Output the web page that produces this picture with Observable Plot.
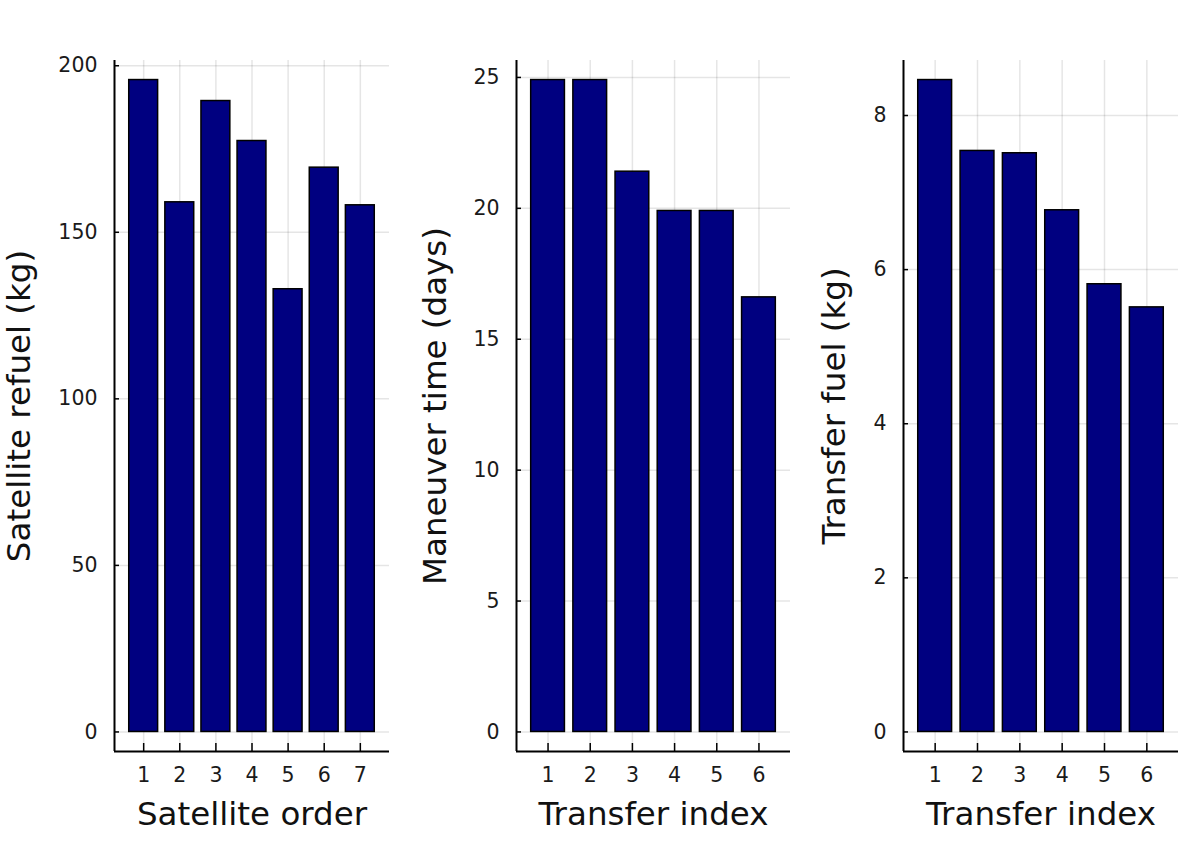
<!DOCTYPE html>
<html>
<head>
<meta charset="utf-8">
<script src="https://cdn.jsdelivr.net/npm/d3@7"></script>
<script src="https://cdn.jsdelivr.net/npm/@observablehq/plot@0.6"></script>
<style>
  html, body { margin: 0; padding: 0; background: #fff; }
  #wrap { position: relative; width: 1196px; height: 861px; background: #fff; font-family: "DejaVu Sans", sans-serif; }
  .panel { position: absolute; top: 0; }
</style>
</head>
<body>
<div id="wrap">
  <div class="panel" id="p1" style="left:0px"></div>
  <div class="panel" id="p2" style="left:400px"></div>
  <div class="panel" id="p3" style="left:800px"></div>
</div>
<script>
// ---- data ----
const satelliteOrder = [1, 2, 3, 4, 5, 6, 7];
const satelliteRefuel = [195.7, 159.0, 189.4, 177.4, 132.9, 169.4, 158.1];

const transferIndex = [1, 2, 3, 4, 5, 6];
const maneuverTime = [24.9, 24.9, 21.4, 19.9, 19.9, 16.6];
const transferFuel = [8.46, 7.54, 7.51, 6.77, 5.81, 5.51];

const refuelTicks = [0, 50, 100, 150, 200];
const timeTicks = [0, 5, 10, 15, 20, 25];
const fuelTicks = [0, 2, 4, 6, 8];

const xLabels = ["Satellite order", "Transfer index", "Transfer index"];
const yLabels = ["Satellite refuel (kg)", "Maneuver time (days)", "Transfer fuel (kg)"];

// ---- panel builder ----
function panel(el, xs, ys, yTicks, xLabel, yLabel, width, marginLeft, marginRight, yLabelDx) {
  const data = xs.map((x, i) => ({x, y: ys[i]}));
  const n = xs.length;
  const w = (n + 0.4) - 0.6;
  const xDom = [0.6 - 0.06 * w, n + 0.4 + 0.06 * w];
  const yMax = d3.max(ys);
  const yDom = [-0.03 * yMax, 1.03 * yMax];
  const fmt = d => String(d);
  const chart = Plot.plot({
    width,
    height: 861,
    marginLeft,
    marginRight,
    marginTop: 60,
    marginBottom: 110,
    style: {fontFamily: "DejaVu Sans", background: "transparent", color: "black", overflow: "visible"},
    x: {type: "linear", domain: xDom},
    y: {type: "linear", domain: yDom},
    marks: [
      Plot.gridX(xs, {stroke: "black", strokeOpacity: 0.1, strokeWidth: 1.5}),
      Plot.gridY(yTicks, {stroke: "black", strokeOpacity: 0.1, strokeWidth: 1.5}),
      Plot.rect(data, {
        x1: d => d.x - 0.4, x2: d => d.x + 0.4,
        y1: 0, y2: "y",
        fill: "#000080", stroke: "black", strokeWidth: 1.5
      }),
      Plot.ruleX([xDom[0]], {stroke: "black", strokeWidth: 2}),
      Plot.ruleY([yDom[0]], {stroke: "black", strokeWidth: 2}),
      Plot.axisY(yTicks, {tickSize: -5, tickPadding: 22, fontSize: 20.5, label: null, strokeWidth: 1.5, tickFormat: fmt, fill: "#1a1a1a"}),
      Plot.axisX(xs, {tickSize: -8, tickPadding: 24, fontSize: 20.5, label: null, strokeWidth: 1.5, tickFormat: fmt, fill: "#1a1a1a"}),
      Plot.text([yLabel], {text: d => d, frameAnchor: "left", rotate: -90, dx: yLabelDx, fontSize: 32.5, textAnchor: "middle", lineAnchor: "middle", fill: "#111"}),
      Plot.text([xLabel], {text: d => d, frameAnchor: "bottom", dy: 63, fontSize: 32.5, textAnchor: "middle", lineAnchor: "middle", fill: "#111"})
    ]
  });
  document.getElementById(el).appendChild(chart);
}

panel("p1", satelliteOrder, satelliteRefuel, refuelTicks, xLabels[0], yLabels[0], 400, 114, 11, -95);
panel("p2", transferIndex, maneuverTime, timeTicks, xLabels[1], yLabels[1], 400, 116, 10, -81);
panel("p3", transferIndex, transferFuel, fuelTicks, xLabels[2], yLabels[2], 396, 103, 18, -69);
</script>
</body>
</html>
